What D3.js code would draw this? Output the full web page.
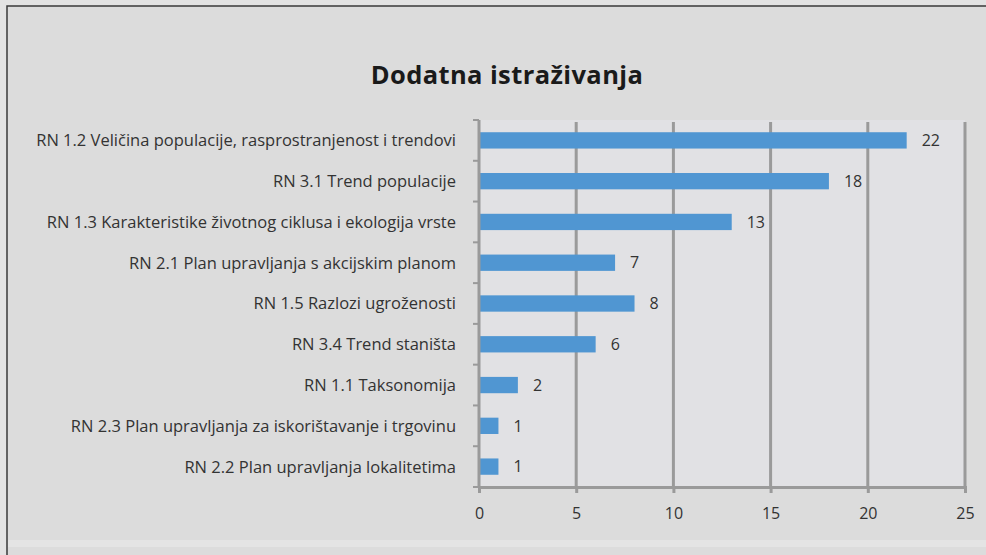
<!DOCTYPE html>
<html>
<head>
<meta charset="utf-8">
<script src="https://cdn.jsdelivr.net/npm/d3@7"></script>
<style>
  body { margin: 0; background: #e3e3e3; }
  svg { display: block; font-family: "Open Sans", sans-serif; }
</style>
</head>
<body>
<svg width="986" height="555"></svg>
<script>
var categories = [
  "RN 1.2 Veličina populacije, rasprostranjenost i trendovi",
  "RN 3.1 Trend populacije",
  "RN 1.3 Karakteristike životnog ciklusa i ekologija vrste",
  "RN 2.1 Plan upravljanja s akcijskim planom",
  "RN 1.5 Razlozi ugroženosti",
  "RN 3.4 Trend staništa",
  "RN 1.1 Taksonomija",
  "RN 2.3 Plan upravljanja za iskorištavanje i trgovinu",
  "RN 2.2 Plan upravljanja lokalitetima"
];
var values = [22, 18, 13, 7, 8, 6, 2, 1, 1];
var xTicks = [0, 5, 10, 15, 20, 25];
var title = "Dodatna istraživanja";

var svg = d3.select("svg"),
    width = +svg.attr("width"),
    height = +svg.attr("height");

var margin = {top: 120, right: 21, bottom: 68, left: 479};

// outer frame (open at the right and bottom, as in the picture)
svg.append("rect")
    .attr("x", 7).attr("y", 6)
    .attr("width", width + 10).attr("height", height + 10)
    .attr("fill", "#dcdcdc")
    .attr("stroke", "#3a3a3a")
    .attr("stroke-width", 1.5);
svg.append("rect")
    .attr("x", 8).attr("y", 540)
    .attr("width", width).attr("height", 7)
    .attr("fill", "#e4e4e4");

var x = d3.scaleLinear().domain([0, 25]).range([margin.left, width - margin.right]);
var y = d3.scaleBand().domain(categories)
    .range([margin.top, height - margin.bottom])
    .paddingInner(0.6).paddingOuter(0.3);

// plot area
svg.append("rect")
    .attr("x", x(0)).attr("y", margin.top)
    .attr("width", x(25) - x(0)).attr("height", height - margin.bottom - margin.top)
    .attr("fill", "#e1e1e4");

svg.append("text")
    .attr("x", 507).attr("y", 84)
    .attr("text-anchor", "middle")
    .attr("font-size", 25.5).attr("font-weight", "bold")
    .attr("letter-spacing", 0.4)
    .attr("fill", "#1a1a1a")
    .text(title);

// gridlines
svg.append("g")
  .selectAll("line")
  .data(xTicks.slice(1))
  .enter().append("line")
    .attr("x1", function(d) { return x(d); })
    .attr("x2", function(d) { return x(d); })
    .attr("y1", margin.top + 2)
    .attr("y2", height - margin.bottom)
    .attr("stroke", "#9a9a9a")
    .attr("stroke-width", 3);

// bars
svg.append("g")
  .selectAll("rect")
  .data(values)
  .enter().append("rect")
    .attr("x", x(0))
    .attr("y", function(d, i) { return y(categories[i]); })
    .attr("width", function(d) { return x(d) - x(0); })
    .attr("height", y.bandwidth())
    .attr("fill", "#5096d2");

// value labels
svg.append("g")
  .selectAll("text")
  .data(values)
  .enter().append("text")
    .attr("x", function(d) { return x(d) + 15; })
    .attr("y", function(d, i) { return y(categories[i]) + y.bandwidth() / 2; })
    .attr("dy", "0.36em")
    .attr("font-size", 16)
    .attr("fill", "#333")
    .text(function(d) { return d; });

// x axis
var xAxis = svg.append("g")
    .attr("transform", "translate(0," + (height - margin.bottom) + ")")
    .call(d3.axisBottom(x).tickValues(xTicks).tickSize(6).tickPadding(15));
xAxis.select(".domain").attr("stroke", "#9a9a9a").attr("stroke-width", 3);
xAxis.selectAll(".tick line").attr("stroke", "#9a9a9a").attr("stroke-width", 3);
xAxis.selectAll(".tick text").attr("font-size", 16).attr("fill", "#333")
    .attr("font-family", "Open Sans, sans-serif");

// y axis
var boundaries = d3.range(categories.length + 1).map(function(i) { return margin.top + i * (height - margin.bottom - margin.top) / categories.length; });
svg.append("line")
    .attr("x1", x(0)).attr("x2", x(0))
    .attr("y1", margin.top).attr("y2", height - margin.bottom)
    .attr("stroke", "#9a9a9a").attr("stroke-width", 3);
svg.append("g")
  .selectAll("line")
  .data(boundaries)
  .enter().append("line")
    .attr("x1", x(0) - 6).attr("x2", x(0))
    .attr("y1", function(d) { return d; })
    .attr("y2", function(d) { return d; })
    .attr("stroke", "#9a9a9a").attr("stroke-width", 2);

svg.append("g")
  .selectAll("text")
  .data(categories)
  .enter().append("text")
    .attr("x", x(0) - 23)
    .attr("y", function(d) { return y(d) + y.bandwidth() / 2; })
    .attr("dy", "0.36em")
    .attr("text-anchor", "end")
    .attr("font-size", 16.5)
    .attr("fill", "#333")
    .text(function(d) { return d; });
</script>
</body>
</html>
